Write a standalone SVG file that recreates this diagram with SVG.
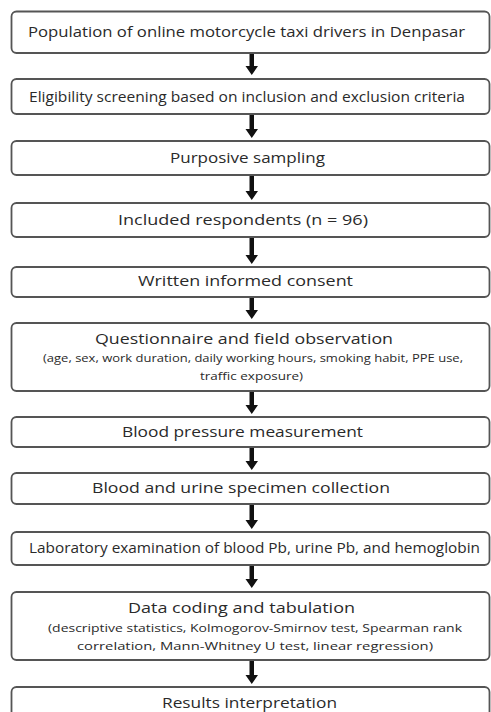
<svg xmlns="http://www.w3.org/2000/svg" width="491" height="712" viewBox="0 0 491 712">
<style>
.box{fill:#fff;stroke:#555;stroke-width:1.8}
.t{font-family:"Open Sans","Liberation Sans",sans-serif;font-size:15px;fill:#2a2a2a;text-anchor:middle}
.s{font-family:"Open Sans","Liberation Sans",sans-serif;font-size:11px;fill:#2a2a2a;text-anchor:middle}
.ar{fill:#111}
</style>
<defs>
<path id="arr" d="M-2,0 H2 V-0 Z"/>
</defs>
<rect width="491" height="712" fill="#fff"/>
<g id="connectors">
<path class="ar" d="M249.5,53 H254 V66 H258 L251.75,75 L245.5,66 H249.5 Z"/>
<path class="ar" d="M249.5,114 H254 V129 H258 L251.75,138 L245.5,129 H249.5 Z"/>
<path class="ar" d="M249.5,175 H254 V191 H258 L251.75,200 L245.5,191 H249.5 Z"/>
<path class="ar" d="M249.5,237 H254 V255 H258 L251.75,264 L245.5,255 H249.5 Z"/>
<path class="ar" d="M249.5,297 H254 V310 H258 L251.75,319 L245.5,310 H249.5 Z"/>
<path class="ar" d="M249.5,391 H254 V405 H258 L251.75,414 L245.5,405 H249.5 Z"/>
<path class="ar" d="M249.5,447 H254 V461 H258 L251.75,470 L245.5,461 H249.5 Z"/>
<path class="ar" d="M249.5,504 H254 V520 H258 L251.75,529 L245.5,520 H249.5 Z"/>
<path class="ar" d="M249.5,565 H254 V579 H258 L251.75,588 L245.5,579 H249.5 Z"/>
<path class="ar" d="M249.5,660 H254 V675 H258 L251.75,684 L245.5,675 H249.5 Z"/>
</g>
<g id="n1"><rect class="box" x="11.5" y="11.5" width="478" height="41.5" rx="5"/>
<text class="t" x="246.5" y="37" textLength="437" lengthAdjust="spacingAndGlyphs">Population of online motorcycle taxi drivers in Denpasar</text></g>
<g id="n2"><rect class="box" x="11.5" y="79" width="478" height="35" rx="5"/>
<text class="t" x="247" y="101.5" textLength="436" lengthAdjust="spacingAndGlyphs">Eligibility screening based on inclusion and exclusion criteria</text></g>
<g id="n3"><rect class="box" x="11.5" y="141" width="478" height="34" rx="5"/>
<text class="t" x="247.5" y="163" textLength="155" lengthAdjust="spacingAndGlyphs">Purposive sampling</text></g>
<g id="n4"><rect class="box" x="11.5" y="203" width="478" height="34" rx="5"/>
<text class="t" x="243" y="225" textLength="250" lengthAdjust="spacingAndGlyphs">Included respondents (n = 96)</text></g>
<g id="n5"><rect class="box" x="11.5" y="267" width="478" height="30" rx="5"/>
<text class="t" x="245.5" y="286" textLength="215" lengthAdjust="spacingAndGlyphs">Written informed consent</text></g>
<g id="n6"><rect class="box" x="11.5" y="323" width="478" height="68" rx="5"/>
<text class="t" x="244" y="344" textLength="298" lengthAdjust="spacingAndGlyphs">Questionnaire and field observation</text>
<text class="s" x="253" y="362" textLength="420" lengthAdjust="spacingAndGlyphs">(age, sex, work duration, daily working hours, smoking habit, PPE use,</text>
<text class="s" x="251.5" y="380" textLength="103" lengthAdjust="spacingAndGlyphs">traffic exposure)</text></g>
<g id="n7"><rect class="box" x="11.5" y="417" width="478" height="30" rx="5"/>
<text class="t" x="242.5" y="437" textLength="241" lengthAdjust="spacingAndGlyphs">Blood pressure measurement</text></g>
<g id="n8"><rect class="box" x="11.5" y="473" width="478" height="31" rx="5"/>
<text class="t" x="241" y="493" textLength="298" lengthAdjust="spacingAndGlyphs">Blood and urine specimen collection</text></g>
<g id="n9"><rect class="box" x="11.5" y="532" width="478" height="33" rx="5"/>
<text class="t" x="254.5" y="553" textLength="451" lengthAdjust="spacingAndGlyphs">Laboratory examination of blood Pb, urine Pb, and hemoglobin</text></g>
<g id="n10"><rect class="box" x="11.5" y="592" width="478" height="68" rx="5"/>
<text class="t" x="241.5" y="613" textLength="227" lengthAdjust="spacingAndGlyphs">Data coding and tabulation</text>
<text class="s" x="255" y="632" textLength="414" lengthAdjust="spacingAndGlyphs">(descriptive statistics, Kolmogorov-Smirnov test, Spearman rank</text>
<text class="s" x="255" y="650" textLength="356" lengthAdjust="spacingAndGlyphs">correlation, Mann-Whitney U test, linear regression)</text></g>
<g id="n11"><rect class="box" x="11.5" y="687" width="478" height="40" rx="5"/>
<text class="t" x="249.5" y="708" textLength="175" lengthAdjust="spacingAndGlyphs">Results interpretation</text></g>
</svg>
